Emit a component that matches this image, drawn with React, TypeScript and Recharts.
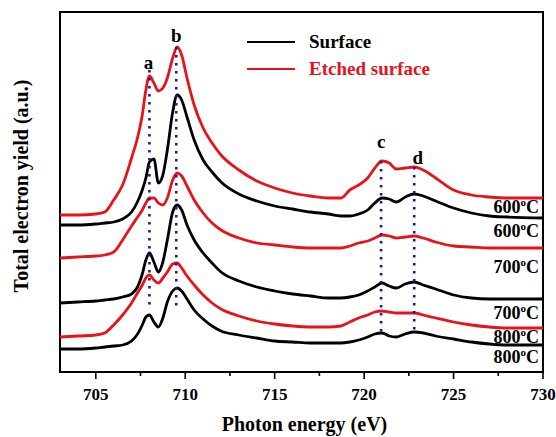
import React from 'react';
import { LineChart, Line, XAxis, YAxis, ReferenceArea, ReferenceLine, ReferenceDot, Label, Legend } from 'recharts';

const FONT = '"Liberation Serif", "Times New Roman", Times, serif';
const RED = '#e8131a';
const BLUE = '#1a1a9c';

// photon energy grid (eV)
const energies = [703, 704, 705, 705.5, 706, 706.5, 707, 707.3, 707.6, 707.8, 708.0, 708.25, 708.5, 708.75, 709.0, 709.3, 709.55, 709.8, 710.1, 710.5, 711, 711.5, 712, 713, 714, 715, 716, 717, 718, 718.7, 719.2, 719.7, 720.2, 720.6, 721, 721.4, 721.8, 722.3, 722.8, 723.3, 724, 725, 726, 727, 728, 730];

// total electron yield (a.u., offset stacked)
const etched600 = [157, 157, 158, 160, 172, 187, 214, 232, 257, 282, 296, 289, 281, 284, 294, 314, 325, 317, 294, 267, 244, 229, 217, 202, 191, 184, 179, 176, 174, 174, 182, 187, 194, 204, 211, 209, 203, 204, 205, 202, 194, 182, 177, 175, 174, 174];
const surface600 = [147, 147, 148, 149, 150, 153, 160, 169, 182, 194, 210, 213, 189, 197, 222, 260, 277, 272, 255, 232, 212, 200, 190, 178, 171, 166, 163, 160, 158, 156, 156, 158, 162, 169, 174, 173, 170, 175, 178, 176, 171, 164, 159, 156, 155, 154];
const etched700 = [114, 115, 116, 117, 120, 132, 146, 154, 162, 169, 174, 174, 169, 167, 174, 192, 199, 196, 186, 172, 159, 149, 142, 134, 129, 127, 125, 124, 124, 124, 126, 129, 131, 134, 137, 136, 134, 135, 136, 134, 130, 126, 125, 124, 124, 124];
const surface700 = [69, 70, 71, 72, 73, 75, 78, 84, 98, 112, 119, 110, 100, 110, 132, 160, 167, 162, 147, 132, 119, 109, 100, 91, 85, 81, 78, 76, 74, 74, 75, 77, 81, 85, 89, 86, 84, 88, 90, 87, 83, 77, 74, 73, 73, 73];
const etched800 = [35, 36, 37, 39, 47, 57, 69, 78, 87, 94, 97, 92, 89, 94, 100, 108, 109, 104, 96, 87, 77, 69, 63, 56, 51, 48, 46, 45, 45, 46, 50, 54, 57, 60, 61, 60, 59, 59, 59, 57, 54, 50, 47, 45, 44, 44];
const surface800 = [23, 23, 24, 25, 26, 27, 31, 37, 47, 55, 57, 50, 45, 54, 70, 81, 84, 81, 73, 62, 53, 46, 41, 37, 34, 31, 30, 29, 29, 29, 30, 32, 35, 38, 39, 36, 35, 38, 40, 39, 36, 33, 30, 28, 27, 27];

const xTicks = [705, 707.5, 710, 712.5, 715, 717.5, 720, 722.5, 725, 727.5, 730];

// peak markers a-d
const peakNames = ['a', 'b', 'c', 'd'];
const peakEnergies = [708.0, 709.5, 720.95, 722.8];
const peakTop = [302, 325, 211, 205];
const peakBottom = [64, 65, 37, 42];
const peakLabelE = [707.95, 709.5, 720.95, 723.0];
const peakLabelY = [310, 337, 231, 215];

// temperature labels at right edge
const tempLabels = ['600', '600', '700', '700', '800', '800'];
const tempLabelY = [165, 141, 105, 59, 35, 15];

const series = [
  { key: 's800', name: 'Surface', values: surface800, color: '#000' },
  { key: 'e800', name: 'Etched surface', values: etched800, color: RED },
  { key: 's700', name: 'Surface', values: surface700, color: '#000' },
  { key: 'e700', name: 'Etched surface', values: etched700, color: RED },
  { key: 's600', name: 'Surface', values: surface600, color: '#000' },
  { key: 'e600', name: 'Etched surface', values: etched600, color: RED },
];

const data = energies.map((e, i) => {
  const row: any = { e };
  series.forEach((s) => { row[s.key] = s.values[i]; });
  return row;
});

const XTick = (props: any) => {
  const { x, y, payload } = props;
  const major = payload.value % 5 === 0;
  return (
    <g>
      <line x1={x} x2={x} y1={y - 8} y2={y - 8 + (major ? 7 : 4)} stroke="#000" strokeWidth={1.6} />
      {major && (
        <text x={x} y={y + 20} textAnchor="middle" fontFamily={FONT} fontWeight="bold" fontSize={17} fill="#000">
          {payload.value}
        </text>
      )}
    </g>
  );
};

const XTitle = (props: any) => {
  const vb = props.viewBox;
  return (
    <text x={vb.x + vb.width / 2 + 3} y={vb.y + 59} textAnchor="middle" fontFamily={FONT} fontWeight="bold" fontSize={20} fill="#000">
      Photon energy (eV)
    </text>
  );
};

const YTitle = (props: any) => {
  const vb = props.viewBox;
  const cx = vb.x + 21;
  const cy = vb.y + vb.height / 2 - 6;
  return (
    <text x={cx} y={cy} transform={`rotate(-90 ${cx} ${cy})`} textAnchor="middle" dominantBaseline="central" fontFamily={FONT} fontWeight="bold" fontSize={20} fill="#000">
      Total electron yield (a.u.)
    </text>
  );
};

const makePeakLabel = (txt: string) => (props: any) => {
  const vb = props.viewBox;
  return (
    <text x={vb.x + vb.width / 2} y={vb.y + vb.height / 2} textAnchor="middle" dominantBaseline="central" fontFamily={FONT} fontWeight="bold" fontSize={19} fill="#000">
      {txt}
    </text>
  );
};

const makeTempLabel = (txt: string) => (props: any) => {
  const vb = props.viewBox;
  const y = vb.y + vb.height / 2 + 6;
  return (
    <text x={vb.x - 4} y={y} textAnchor="end" fontFamily={FONT} fontWeight="bold" fontSize={18} fill="#000">
      <tspan>{txt}</tspan>
      <tspan dy={-7} fontSize={11}>o</tspan>
      <tspan dy={7}>C</tspan>
    </text>
  );
};

const LegendContent = () => (
  <svg width={240} height={60} style={{ display: 'block' }}>
    <line x1={0} x2={48} y1={14} y2={14} stroke="#000" strokeWidth={2} />
    <text x={62} y={20} fontFamily={FONT} fontWeight="bold" fontSize={19} fill="#000">Surface</text>
    <line x1={0} x2={48} y1={41} y2={41} stroke={RED} strokeWidth={2} />
    <text x={62} y={47} fontFamily={FONT} fontWeight="bold" fontSize={19} fill={RED}>Etched surface</text>
  </svg>
);

export default function App() {
  return (
    <div style={{ position: 'absolute', left: 0, top: 0, width: 556, height: 437, background: '#fff' }}>
      <LineChart width={556} height={437} data={data} margin={{ top: 12, right: 13, bottom: 0, left: 0 }}>
        <XAxis
          dataKey="e"
          type="number"
          domain={[703, 730]}
          ticks={xTicks}
          interval={0}
          height={65}
          tickSize={6}
          tickMargin={2}
          axisLine={false}
          tickLine={false}
          tick={<XTick />}
        >
          <Label content={<XTitle />} />
        </XAxis>
        <YAxis type="number" domain={[0, 360]} width={60} tick={false} tickLine={false} axisLine={false}>
          <Label content={<YTitle />} />
        </YAxis>
        <Legend
          layout="vertical"
          align="center"
          verticalAlign="middle"
          wrapperStyle={{ left: 247, top: 28, width: 240, height: 60 }}
          content={<LegendContent />}
        />
        {series.map((s) => (
          <Line
            key={s.key}
            dataKey={s.key}
            name={s.name}
            type="monotone"
            stroke={s.color}
            strokeWidth={2.8}
            dot={false}
            activeDot={false}
            isAnimationActive={false}
            legendType="none"
          />
        ))}
        {peakEnergies.map((e, i) => (
          <ReferenceLine
            key={'pl' + i}
            segment={[{ x: e, y: peakTop[i] }, { x: e, y: peakBottom[i] }]}
            stroke={BLUE}
            strokeWidth={2.6}
            strokeDasharray="2.5 5.5"
            ifOverflow="visible"
          />
        ))}
        {peakNames.map((n, i) => (
          <ReferenceDot key={'pn' + i} x={peakLabelE[i]} y={peakLabelY[i]} r={0} stroke="none" fill="none" ifOverflow="visible" label={makePeakLabel(n)} />
        ))}
        {tempLabels.map((t, i) => (
          <ReferenceDot key={'tl' + i} x={730} y={tempLabelY[i]} r={0} stroke="none" fill="none" ifOverflow="visible" label={makeTempLabel(t)} />
        ))}
        <ReferenceArea x1={703} x2={730} y1={0} y2={360} fill="none" stroke="#000" strokeWidth={2} ifOverflow="visible" />
      </LineChart>
    </div>
  );
}
